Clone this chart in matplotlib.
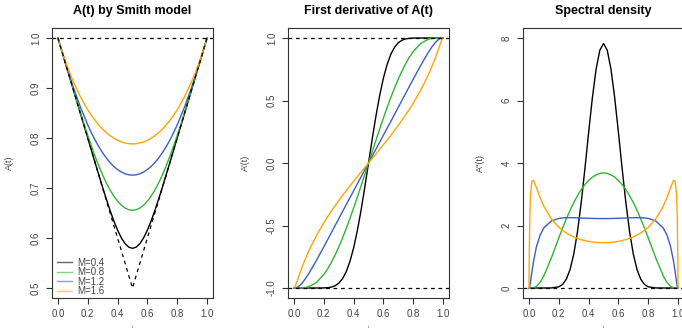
import matplotlib
matplotlib.use('Agg')
import matplotlib.pyplot as plt
from matplotlib.lines import Line2D

plt.rcParams['font.family'] = ['Liberation Sans', 'DejaVu Sans']

# values of t where the curves were read
t = [0, 0.002, 0.005, 0.01, 0.02, 0.03, 0.05, 0.075, 0.1, 0.15, 0.2, 0.225, 0.25, 0.275,
     0.3, 0.325, 0.35, 0.375, 0.4, 0.425, 0.45, 0.475, 0.5, 0.525, 0.55, 0.575, 0.6, 0.625,
     0.65, 0.675, 0.7, 0.725, 0.75, 0.775, 0.8, 0.85, 0.9, 0.925, 0.95, 0.97, 0.98, 0.99,
     0.995, 0.998, 1.0]

labels = ['M=0.4', 'M=0.8', 'M=1.2', 'M=1.6']

# A(t)
a_04 = [1.0, 0.998, 0.995, 0.990, 0.980, 0.970, 0.950, 0.925, 0.900, 0.850, 0.800, 0.775,
        0.750, 0.7255, 0.701, 0.6775, 0.6549, 0.6341, 0.6157, 0.6004, 0.5889, 0.5817, 0.5793,
        0.5817, 0.5889, 0.6004, 0.6157, 0.6341, 0.6549, 0.6775, 0.701, 0.7255, 0.750, 0.775,
        0.800, 0.850, 0.900, 0.925, 0.950, 0.970, 0.980, 0.990, 0.995, 0.998, 1.0]
a_08 = [1.0, 0.998, 0.995, 0.990, 0.980, 0.970, 0.950, 0.9251, 0.9002, 0.8514, 0.8051,
        0.7833, 0.7627, 0.7435, 0.7259, 0.7099, 0.6958, 0.6837, 0.6736, 0.6657, 0.6600,
        0.6566, 0.6554, 0.6566, 0.6600, 0.6657, 0.6736, 0.6837, 0.6958, 0.7099, 0.7259,
        0.7435, 0.7627, 0.7833, 0.8051, 0.8514, 0.9002, 0.9251, 0.950, 0.970, 0.980, 0.990,
        0.995, 0.998, 1.0]
a_12 = [1.0, 0.998, 0.995, 0.990, 0.980, 0.9701, 0.9505, 0.9268, 0.9041, 0.8625, 0.8262,
        0.8101, 0.7954, 0.7822, 0.7703, 0.7598, 0.7508, 0.7431, 0.7369, 0.7320, 0.7285,
        0.7264, 0.7258, 0.7264, 0.7285, 0.7320, 0.7369, 0.7431, 0.7508, 0.7598, 0.7703,
        0.7822, 0.7954, 0.8101, 0.8262, 0.8625, 0.9041, 0.9268, 0.9505, 0.9701, 0.980,
        0.990, 0.995, 0.998, 1.0]
a_16 = [1.0, 0.998, 0.995, 0.9901, 0.9804, 0.9711, 0.9535, 0.9333, 0.9149, 0.8829, 0.8565,
        0.8451, 0.8349, 0.8258, 0.8177, 0.8107, 0.8046, 0.7996, 0.7954, 0.7922, 0.7900,
        0.7886, 0.7881, 0.7886, 0.7900, 0.7922, 0.7954, 0.7996, 0.8046, 0.8107, 0.8177,
        0.8258, 0.8349, 0.8451, 0.8565, 0.8829, 0.9149, 0.9333, 0.9535, 0.9711, 0.9804,
        0.9901, 0.995, 0.998, 1.0]

# lower bound max(t, 1-t)
bound_t = [0, 0.5, 1]
bound_v = [1, 0.5, 1]

# A'(t)
d1_04 = [-1, -1, -1, -1, -1, -1, -1, -1, -1, -1, -0.9993, -0.9976, -0.9930, -0.9826,
         -0.9623, -0.9269, -0.8708, -0.7894, -0.6797, -0.5412, -0.3772, -0.1938, 0,
         0.1938, 0.3772, 0.5412, 0.6797, 0.7894, 0.8708, 0.9269, 0.9623, 0.9826, 0.9930,
         0.9976, 0.9993, 1, 1, 1, 1, 1, 1, 1, 1, 1, 1]
d1_08 = [-1, -1, -1, -1, -1, -1, -0.9995, -0.9967, -0.9897, -0.9564, -0.8922, -0.8483,
         -0.7967, -0.7380, -0.6728, -0.6018, -0.5255, -0.4447, -0.3603, -0.2729, -0.1832,
         -0.0920, 0, 0.0920, 0.1832, 0.2729, 0.3603, 0.4447, 0.5255, 0.6018, 0.6728, 0.7380,
         0.7967, 0.8483, 0.8922, 0.9564, 0.9897, 0.9967, 0.9995, 1, 1, 1, 1, 1, 1]
d1_12 = [-1, -1, -0.9999, -0.9994, -0.9958, -0.9890, -0.9670, -0.9288, -0.8833, -0.7807,
         -0.6710, -0.6152, -0.5590, -0.5027, -0.4465, -0.3903, -0.3342, -0.2783, -0.2225,
         -0.1668, -0.1111, -0.0556, 0, 0.0556, 0.1111, 0.1668, 0.2225, 0.2783, 0.3342,
         0.3903, 0.4465, 0.5027, 0.5590, 0.6152, 0.6710, 0.7807, 0.8833, 0.9288, 0.9670,
         0.9890, 0.9958, 0.9994, 0.9999, 1, 1]
d1_16 = [-1, -0.9990, -0.9939, -0.9807, -0.9481, -0.9136, -0.8468, -0.7705, -0.7019,
         -0.5821, -0.4787, -0.4314, -0.3863, -0.3432, -0.3016, -0.2613, -0.2221, -0.1838,
         -0.1463, -0.1093, -0.0726, -0.0363, 0, 0.0363, 0.0726, 0.1093, 0.1463, 0.1838,
         0.2221, 0.2613, 0.3016, 0.3432, 0.3863, 0.4314, 0.4787, 0.5821, 0.7019, 0.7705,
         0.8468, 0.9136, 0.9481, 0.9807, 0.9939, 0.9990, 1]

# A''(t), spectral density
d2_04 = [0, 0, 0, 0, 0, 0, 0, 0, 0, 0.0015, 0.038, 0.113, 0.277, 0.583, 1.078, 1.792,
         2.720, 3.812, 4.974, 6.082, 7.000, 7.608, 7.823, 7.608, 7.000, 6.082, 4.974, 3.812,
         2.720, 1.792, 1.078, 0.583, 0.277, 0.113, 0.038, 0.0015, 0, 0, 0, 0, 0, 0, 0, 0, 0]
d2_08 = [0, 0, 0, 0, 0.001, 0.007, 0.051, 0.182, 0.393, 0.964, 1.603, 1.914, 2.208, 2.481,
         2.730, 2.951, 3.145, 3.308, 3.443, 3.548, 3.622, 3.667, 3.683, 3.667, 3.622, 3.548,
         3.443, 3.308, 3.145, 2.951, 2.730, 2.481, 2.208, 1.914, 1.603, 0.964, 0.393, 0.182,
         0.051, 0.007, 0.001, 0, 0, 0, 0]
d2_12 = [0, 0.005, 0.047, 0.183, 0.526, 0.843, 1.322, 1.698, 1.924, 2.146, 2.226, 2.242,
         2.249, 2.251, 2.249, 2.245, 2.240, 2.235, 2.231, 2.227, 2.224, 2.222, 2.222, 2.222,
         2.224, 2.227, 2.231, 2.235, 2.240, 2.245, 2.249, 2.251, 2.249, 2.242, 2.226, 2.146,
         1.924, 1.698, 1.322, 0.843, 0.526, 0.183, 0.047, 0.005, 0]
d2_16 = [0, 1.078, 2.168, 2.974, 3.424, 3.444, 3.216, 2.888, 2.612, 2.210, 1.943, 1.844,
         1.762, 1.693, 1.635, 1.587, 1.548, 1.516, 1.491, 1.472, 1.459, 1.451, 1.449, 1.451,
         1.459, 1.472, 1.491, 1.516, 1.548, 1.587, 1.635, 1.693, 1.762, 1.844, 1.943, 2.210,
         2.612, 2.888, 3.216, 3.444, 3.424, 2.974, 2.168, 1.078, 0]

colors = ['black', '#2fb52f', '#3a5fc4', '#ffa500']
grey = '#333333'


def style_axes(ax, ylim, yticks, ylabel, title):
    ax.set_xlim(-0.04, 1.04)
    ax.set_ylim(*ylim)
    ax.set_xticks([0, 0.2, 0.4, 0.6, 0.8, 1.0])
    ax.set_xticklabels(['0.0', '0.2', '0.4', '0.6', '0.8', '1.0'])
    ax.set_yticks(yticks)
    for s in ax.spines.values():
        s.set_color(grey)
        s.set_linewidth(0.8)
    ax.tick_params(direction='out', length=4, width=0.8, color=grey, labelsize=7,
                   labelcolor='#444444', pad=4)
    for lab in ax.get_yticklabels():
        lab.set_rotation(90)
        lab.set_va('center')
    ax.set_title(title, fontsize=9, fontweight='bold', pad=10)
    ax.set_ylabel(ylabel, fontsize=6.5, color='#444444')
    ax.yaxis.set_label_coords(-0.235, 0.5)
    ax.set_xlabel('t', fontsize=3, color='#444444')
    ax.xaxis.set_label_coords(0.5, -0.1)


fig = plt.figure(figsize=(6.82, 3.31), dpi=100)
ax1 = fig.add_axes([0.0762, 0.0997, 0.2361, 0.8157])
ax2 = fig.add_axes([0.4223, 0.0997, 0.2361, 0.8157])
ax3 = fig.add_axes([0.7669, 0.0997, 0.2361, 0.8157])

# A(t)
for y, c in zip([a_04, a_08, a_12, a_16], colors):
    ax1.plot(t, y, color=c, lw=1.0)
ax1.plot(bound_t, bound_v, color='black', lw=0.9, ls=(0, (3, 3)))
ax1.axhline(1, color='black', lw=0.9, ls=(0, (3, 3)))
style_axes(ax1, (0.48, 1.02), [0.5, 0.6, 0.7, 0.8, 0.9, 1.0], 'A(t)', 'A(t) by Smith model')
ax1.set_yticklabels(['0.5', '0.6', '0.7', '0.8', '0.9', '1.0'])
handles = [Line2D([], [], color=c, lw=1.0, alpha=0.6) for c in colors]
ax1.legend(handles, labels, loc='lower left', bbox_to_anchor=(0.02, 0.0), frameon=False,
           fontsize=7, handlelength=1.5, handletextpad=0.6, labelspacing=-0.05,
           borderaxespad=0.0, borderpad=0.2, labelcolor='#444444')

# A'(t)
for y, c in zip([d1_04, d1_08, d1_12, d1_16], colors):
    ax2.plot(t, y, color=c, lw=1.0)
ax2.axhline(1, color='black', lw=0.9, ls=(0, (3, 3)))
ax2.axhline(-1, color='black', lw=0.9, ls=(0, (3, 3)))
style_axes(ax2, (-1.08, 1.08), [-1.0, -0.5, 0.0, 0.5, 1.0], "A'(t)", 'First derivative of A(t)')
ax2.set_yticklabels(['-1.0', '-0.5', '0.0', '0.5', '1.0'])

# A''(t)
for y, c in zip([d2_04, d2_08, d2_12, d2_16], colors):
    ax3.plot(t, y, color=c, lw=1.0)
ax3.axhline(0, color='black', lw=0.9, ls=(0, (3, 3)))
style_axes(ax3, (-0.32, 8.32), [0, 2, 4, 6, 8], "A''(t)", 'Spectral density')

fig.savefig('out.png', dpi=100)
